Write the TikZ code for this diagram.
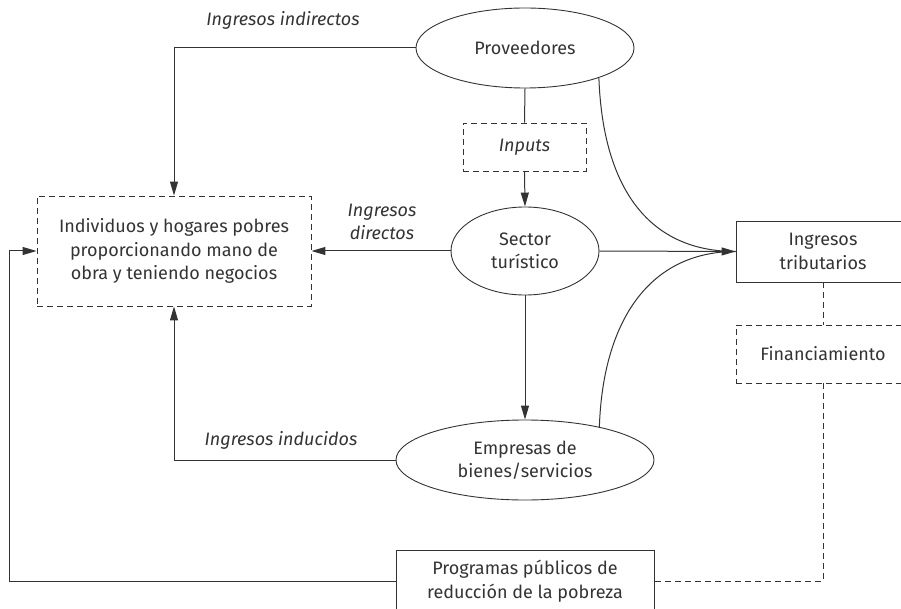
\documentclass[tikz,border=0pt]{standalone}
\usepackage{fontspec}
\setmainfont{Fira Sans}
\usetikzlibrary{shapes.geometric,arrows.meta}
\definecolor{ink}{HTML}{333333}
\begin{document}
\begin{tikzpicture}[x=1pt,y=-1pt,
  every node/.style={text=ink,font=\fontsize{18}{23.5}\selectfont,align=center,inner sep=0pt},
  ell/.style={ellipse,draw=ink,line width=0.9pt},
  solidbox/.style={rectangle,draw=ink,line width=0.9pt},
  dashbox/.style={rectangle,draw=ink,line width=0.9pt,dash pattern=on 6pt off 4pt},
  lbl/.style={font=\fontsize{18}{23.5}\selectfont\itshape},
  conn/.style={draw=ink,line width=1pt},
  arr/.style={conn,-{Triangle[length=14pt,width=8pt]}},
  dconn/.style={draw=ink,line width=1pt,dash pattern=on 6pt off 4pt}]
\useasboundingbox (0,0) rectangle (901,609);
\node[ell,minimum width=218,minimum height=80] (prov) at (525,48) {Proveedores};
\node[dashbox,minimum width=123,minimum height=48] (inputs) at (524.5,147) {\itshape Inputs};
\node[ell,minimum width=148,minimum height=88] (sector) at (525,251) {Sector\\turístico};
\node[dashbox,minimum width=274,minimum height=110] (indiv) at (174,251) {Individuos y hogares pobres\\proporcionando mano de\\obra y teniendo negocios};
\node[ell,minimum width=258,minimum height=80] (emp) at (525,460) {Empresas de\\bienes/servicios};
\node[solidbox,minimum width=174,minimum height=61] (trib) at (823,251.5) {Ingresos\\tributarios};
\node[dashbox,minimum width=174,minimum height=58] (fin) at (823,354) {Financiamiento};
\node[solidbox,minimum width=258,minimum height=62] (prog) at (525,581) {Programas públicos de\\reducción de la pobreza};

\node[lbl] (l1) at (283,20) {Ingresos indirectos};
\node[lbl] (l2) at (382,222) {Ingresos\\directos};
\node[lbl] (l3) at (281,440) {Ingresos inducidos};

\draw[arr] (prov.west) -| (indiv.north);
\draw[conn] (prov.south) -- (inputs.north);
\draw[arr] (inputs.south) -- (sector.north);
\draw[arr] (sector.west) -- (indiv.east |- sector.west);
\draw[arr] (sector.south) -- (emp.north);
\draw[arr] (emp.west) -| (indiv.south);
\draw[conn] (prov.-22) .. controls (603,190) and (650,251.5) .. (trib.west);
\draw[conn] (emp.24) .. controls (603,320) and (650,251.5) .. (trib.west);
\draw[arr] (sector.east) -- (trib.west);
\draw[dconn] (trib.south) -- (fin.north);
\draw[dconn] (fin.south) |- (prog.east);
\draw[arr] (prog.west) -- ++(-386,0) |- (indiv.west);
\end{tikzpicture}
\end{document}
